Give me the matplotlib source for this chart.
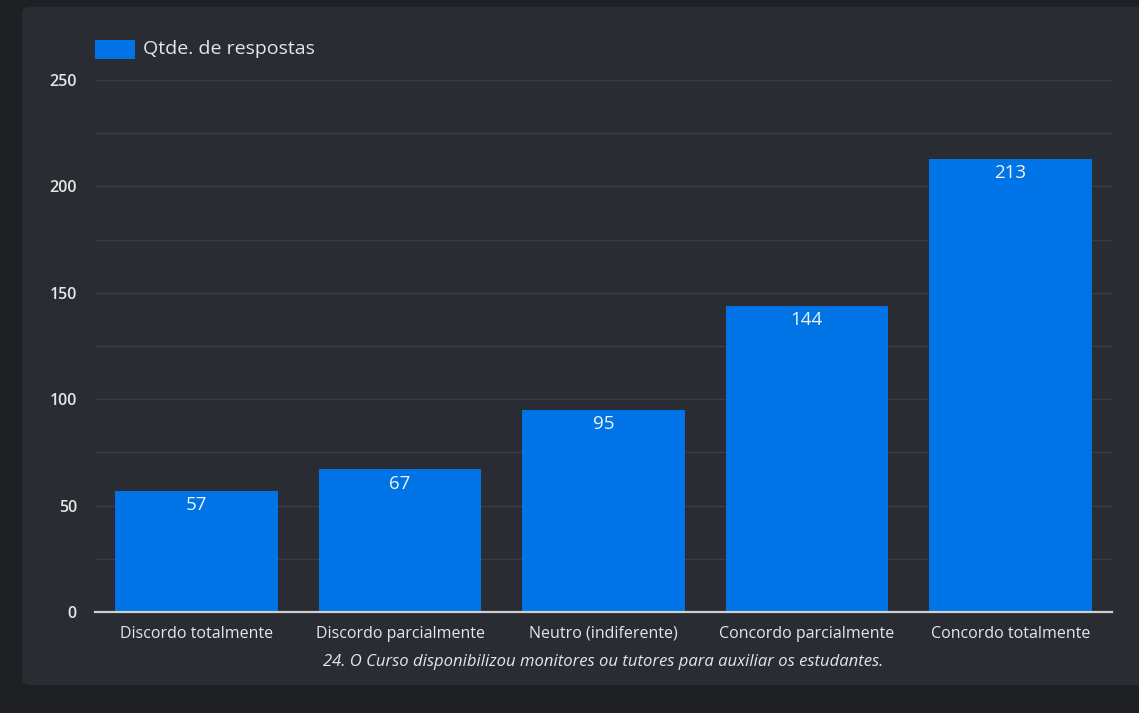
import matplotlib
matplotlib.use("Agg")
import matplotlib.pyplot as plt
from matplotlib.patches import FancyBboxPatch, Rectangle

categories = ["Discordo totalmente", "Discordo parcialmente", "Neutro (indiferente)",
              "Concordo parcialmente", "Concordo totalmente"]
values = [57, 67, 95, 144, 213]
series_name = "Qtde. de respostas"
caption = "24. O Curso disponibilizou monitores ou tutores para auxiliar os estudantes."
yticks = [0, 50, 100, 150, 200, 250]

plt.rcParams['font.family'] = ['Open Sans', 'DejaVu Sans']
W, H = 1139, 713
fig = plt.figure(figsize=(W/100, H/100), dpi=100)
fig.patch.set_facecolor('#1f2024')

def fx(x): return x / W
def fy(y): return 1 - y / H

panel = FancyBboxPatch((fx(22), fy(685)), fx(1160) - fx(22), fy(7) - fy(685),
                       boxstyle="round,pad=0,rounding_size=0.008",
                       transform=fig.transFigure, facecolor='#2a2c33',
                       edgecolor='none', zorder=-5)
fig.patches.append(panel)

ax = fig.add_axes([fx(95), fy(612), fx(1112) - fx(95), fy(80) - fy(612)])
ax.set_zorder(2)
ax.set_facecolor('none')
x = range(len(categories))
bars = ax.bar(x, values, width=0.8, color='#0073e6', zorder=2)
ax.set_xlim(-0.5, len(categories) - 0.5)
ax.set_ylim(0, 250)
ax.set_yticks(yticks)
ax.set_yticks(range(25, 250, 50), minor=True)
ax.grid(axis='y', which='both', color='#3a3d45', linewidth=1, zorder=0)
ax.set_axisbelow(True)
ax.tick_params(axis='y', which='both', length=0, pad=13, labelsize=11.5, labelcolor='#e6e6e6')
for lab in ax.get_yticklabels():
    lab.set_fontweight('semibold')
ax.set_xticks(list(x))
ax.set_xticklabels(categories)
ax.tick_params(axis='x', length=0, pad=10, labelsize=11.5, labelcolor='#e6e6e6')
for lab in ax.get_xticklabels():
    lab.set_fontweight('medium')
for s in ['top', 'right', 'left']:
    ax.spines[s].set_visible(False)
ax.spines['bottom'].set_color('#cfcfcf')
ax.spines['bottom'].set_linewidth(1.6)
ax.spines['bottom'].set_zorder(3)

for b, v in zip(bars, values):
    ax.annotate(str(v), (b.get_x() + b.get_width() / 2, v), xytext=(0, -4),
                textcoords='offset points', ha='center', va='top',
                color='#f2f2f2', fontsize=13.5)

ax.set_xlabel(caption, fontsize=12, style='italic', color='#e6e6e6', labelpad=9)

fig.patches.append(Rectangle((fx(95), fy(59)), fx(135) - fx(95), fy(40) - fy(59),
                             transform=fig.transFigure, facecolor='#0073e6', edgecolor='none'))
fig.text(fx(143), fy(49), series_name, color='#e6e6e6', fontsize=14, va='center', ha='left')

fig.savefig('out.png', dpi=100, facecolor=fig.get_facecolor())
